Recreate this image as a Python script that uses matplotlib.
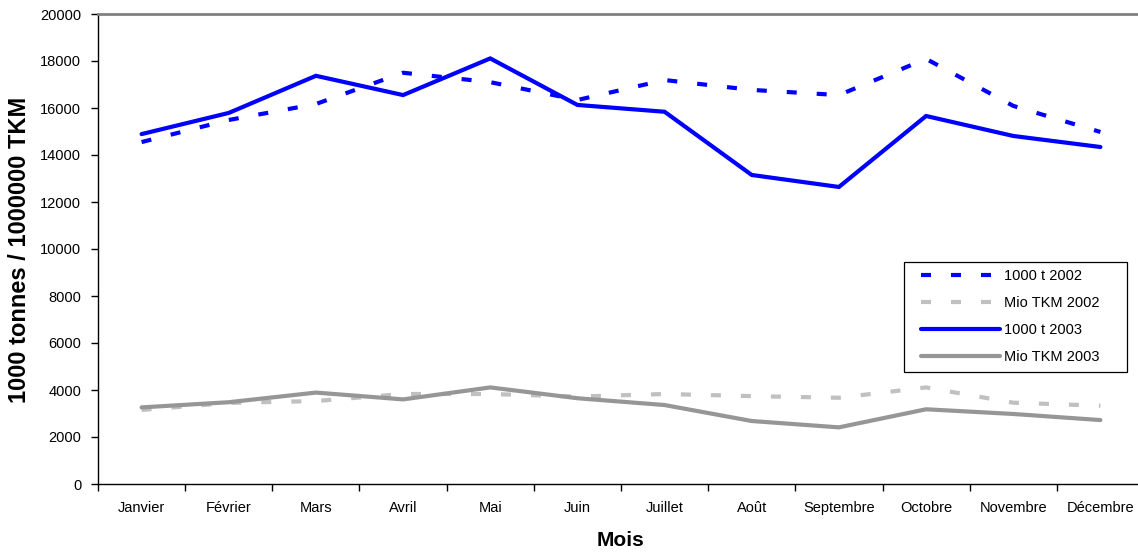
import matplotlib
matplotlib.use("Agg")
import matplotlib.pyplot as plt
from matplotlib.patches import Rectangle
import numpy as np

plt.rcParams['font.family'] = ['Liberation Sans', 'DejaVu Sans']
plt.rcParams['lines.scale_dashes'] = False

months = ["Janvier", "Février", "Mars", "Avril", "Mai", "Juin", "Juillet",
          "Août", "Septembre", "Octobre", "Novembre", "Décembre"]
t_2002 = [14550, 15490, 16170, 17500, 17100, 16340, 17190, 16770, 16550, 18090, 16090, 14980]
tkm_2002 = [3150, 3450, 3530, 3830, 3830, 3720, 3830, 3740, 3670, 4110, 3460, 3330]
t_2003 = [14890, 15790, 17370, 16550, 18110, 16130, 15840, 13150, 12640, 15660, 14810, 14340]
tkm_2003 = [3260, 3480, 3890, 3600, 4110, 3650, 3360, 2680, 2410, 3180, 2980, 2720]
yticks = list(range(0, 20001, 2000))

W, H = 1138, 556
fig = plt.figure(figsize=(W / 100, H / 100), dpi=100)
ax = fig.add_axes([98/W, 1-484/H, 1046/W, 470/H])

x = np.arange(len(months))
dash = (0, (7.2, 14.4))
ax.plot(x, t_2002, color='#0000FF', lw=3, linestyle=dash, dash_capstyle='butt', label='1000 t 2002')
ax.plot(x, tkm_2002, color='#C0C0C0', lw=3, linestyle=dash, dash_capstyle='butt', label='Mio TKM 2002')
ax.plot(x, t_2003, color='#0000FF', lw=3, solid_capstyle='round', solid_joinstyle='miter', label='1000 t 2003')
ax.plot(x, tkm_2003, color='#969696', lw=3, solid_capstyle='round', solid_joinstyle='miter', label='Mio TKM 2003')

ax.set_xlim(-0.5, len(months) - 0.5)
ax.set_ylim(0, 20000)
ax.set_yticks(yticks)
ax.set_yticklabels([str(v) for v in yticks], fontsize=10.5)
ax.set_xticks(np.arange(len(months) + 1) - 0.5)
ax.set_xticklabels([])
ax.set_xticks(x, minor=True)
ax.set_xticklabels(months, minor=True, fontsize=10.5)
for lbl in ax.get_xticklabels(minor=True):
    lbl.set_va('baseline')
ax.tick_params(axis='x', which='major', direction='out', length=5, width=1)
ax.tick_params(axis='x', which='minor', length=0, pad=20)
ax.tick_params(axis='y', direction='out', length=5, width=1, pad=7)

for s in ['left', 'bottom']:
    ax.spines[s].set_color('black')
    ax.spines[s].set_linewidth(1)
ax.spines['top'].set_color('#808080')
ax.spines['top'].set_linewidth(2)
ax.spines['right'].set_visible(False)

fig.text(621/W, 1-540/H, 'Mois', fontsize=15, fontweight='bold', ha='center', va='center')
fig.text(20/W, 1-250/H, '1000 tonnes / 1000000 TKM', rotation=90,
         fontsize=17, fontweight='bold', ha='center', va='center')

# legend box
fig.add_artist(Rectangle((904/W, 1-372/H), (1127-904)/W, (372-262)/H,
                         transform=fig.transFigure, facecolor='white',
                         edgecolor='black', linewidth=0.9, zorder=5))
leg = fig.legend(loc='upper left', bbox_to_anchor=(921/W, 1-269/H), fontsize=10.5,
                 handlelength=5.4, handletextpad=0.3, labelspacing=0.9,
                 frameon=False, borderpad=0, borderaxespad=0)
leg.set_zorder(6)

fig.savefig('out.png', dpi=100)
